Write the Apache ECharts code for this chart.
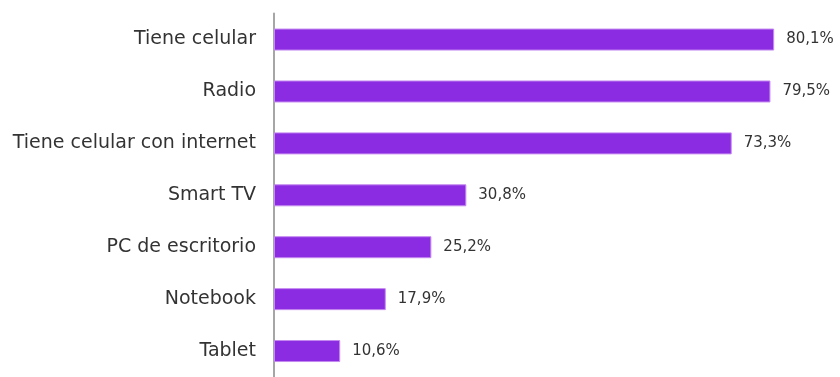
<!DOCTYPE html>
<html><head><meta charset="utf-8">
<script src="https://cdn.jsdelivr.net/npm/echarts@6/dist/echarts.min.js"></script>
<style>html,body{margin:0;padding:0;background:#fff}#c{width:840px;height:377px}</style>
</head><body><div id="c"></div>
<script>
const categories = ["Tiene celular","Radio","Tiene celular con internet","Smart TV","PC de escritorio","Notebook","Tablet"];
const values = [80.1,79.5,73.3,30.8,25.2,17.9,10.6];
const chart = echarts.init(document.getElementById('c'));
chart.setOption({
  animation:false,
  grid:{left:274,top:13.6,width:562,height:369.8,containLabel:false},
  xAxis:{type:'value',min:0,max:90,show:false},
  yAxis:{type:'category',inverse:true,data:categories,
    axisLine:{show:true,lineStyle:{color:'#A6A6A6',width:2}},
    axisTick:{show:false},
    axisLabel:{margin:18,color:'#333333',fontFamily:'DejaVu Sans',fontSize:19}},
  series:[{type:'bar',data:values,barWidth:22,
    itemStyle:{color:'#8B2BE2',borderColor:'#C58AF0',borderWidth:1},
    label:{show:true,position:'right',distance:12,color:'#333333',fontFamily:'DejaVu Sans',fontSize:15,
      formatter:p=>p.value.toFixed(1).replace('.',',')+'%'}}]
});
</script></body></html>
